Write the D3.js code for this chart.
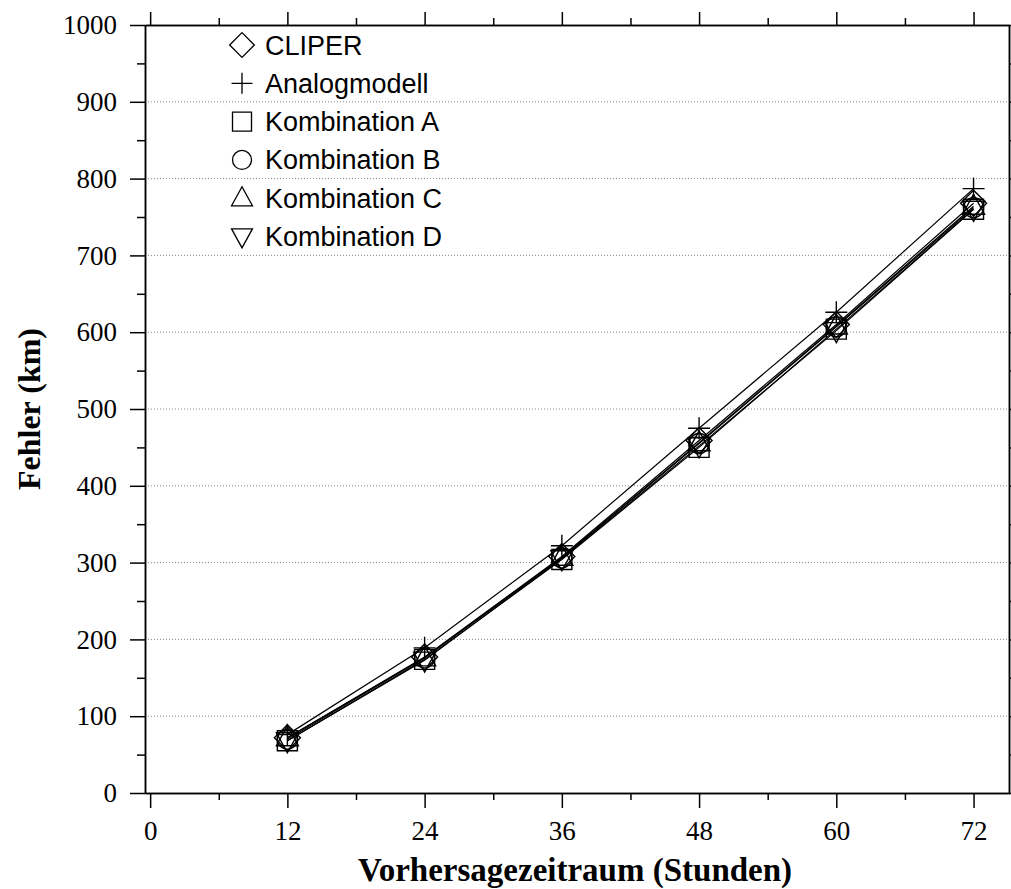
<!DOCTYPE html>
<html>
<head>
<meta charset="utf-8">
<script src="https://cdn.jsdelivr.net/npm/d3@7"></script>
<style>
  html, body { margin: 0; padding: 0; background: #fff; }
  svg { display: block; }
</style>
</head>
<body>
<svg id="chart" width="1011" height="889"></svg>
<script>
// Forecast lead times (hours)
const hours = [12, 24, 36, 48, 60, 72];

// Mean track error (km) per model
const cliper      = [72, 177, 308, 459, 610, 768];
const analogmodel = [76, 189, 322, 475, 626, 787];
const kombA       = [68, 174, 304, 450, 604, 760];
const kombB       = [70, 176, 306, 455, 607, 762];
const kombC       = [72, 176, 307, 456, 608, 764];
const kombD       = [68, 173, 305, 452, 602, 760];

const seriesNames = ["CLIPER", "Analogmodell", "Kombination A", "Kombination B", "Kombination C", "Kombination D"];
const seriesValues = [cliper, analogmodel, kombA, kombB, kombC, kombD];
const seriesSymbols = ["diamond", "plus", "square", "circle", "triUp", "triDown"];

const xMajor = [0, 12, 24, 36, 48, 60, 72];
const xMinor = [6, 18, 30, 42, 54, 66];
const yMajor = [0, 100, 200, 300, 400, 500, 600, 700, 800, 900, 1000];
const yMinor = [50, 150, 250, 350, 450, 550, 650, 750, 850, 950];

const svg = d3.select("#chart");
const plotLeft = 145, plotRight = 1009, plotTop = 25, plotBottom = 793;

const x = d3.scaleLinear().domain([-0.45, 75.1]).range([plotLeft, plotRight]);
const y = d3.scaleLinear().domain([0, 1000]).range([plotBottom, plotTop]);

const serif = "'Liberation Serif', 'Times New Roman', serif";
const sans = "'Liberation Sans', Arial, sans-serif";

// horizontal dotted grid
svg.append("g")
  .selectAll("line")
  .data(yMajor.filter(v => v > 0 && v < 1000))
  .join("line")
  .attr("x1", plotLeft).attr("x2", plotRight)
  .attr("y1", d => y(d)).attr("y2", d => y(d))
  .attr("stroke", "#888").attr("stroke-width", 1)
  .attr("stroke-dasharray", "1,2");

function styleAxis(g) {
  g.selectAll("path.domain").attr("stroke", "#000").attr("stroke-width", 1.5);
  g.selectAll(".tick line").attr("stroke", "#000").attr("stroke-width", 1.5);
}

// bottom axis
const gb = svg.append("g").attr("transform", `translate(0,${plotBottom})`)
  .call(d3.axisBottom(x).tickValues(xMajor).tickSize(15).tickSizeOuter(0).tickPadding(13).tickFormat(d3.format("d")));
styleAxis(gb);
gb.selectAll("text").attr("font-family", serif).attr("font-size", 27).attr("fill", "#000");
const gbm = svg.append("g").attr("transform", `translate(0,${plotBottom})`)
  .call(d3.axisBottom(x).tickValues(xMinor).tickSize(7).tickSizeOuter(0).tickFormat(""));
styleAxis(gbm);

// top axis
const gt = svg.append("g").attr("transform", `translate(0,${plotTop})`)
  .call(d3.axisTop(x).tickValues(xMajor).tickSize(13).tickSizeOuter(0).tickFormat(""));
styleAxis(gt);
const gtm = svg.append("g").attr("transform", `translate(0,${plotTop})`)
  .call(d3.axisTop(x).tickValues(xMinor).tickSize(7).tickSizeOuter(0).tickFormat(""));
styleAxis(gtm);

// left axis
const gl = svg.append("g").attr("transform", `translate(${plotLeft},0)`)
  .call(d3.axisLeft(y).tickValues(yMajor).tickSize(15).tickSizeOuter(0).tickPadding(13).tickFormat(d3.format("d")));
styleAxis(gl);
gl.selectAll("text").attr("font-family", serif).attr("font-size", 27).attr("fill", "#000");
const glm = svg.append("g").attr("transform", `translate(${plotLeft},0)`)
  .call(d3.axisLeft(y).tickValues(yMinor).tickSize(8).tickSizeOuter(0).tickFormat(""));
styleAxis(glm);

// right axis
const gr = svg.append("g").attr("transform", `translate(${plotRight},0)`)
  .call(d3.axisRight(y).tickValues(yMajor).tickSize(15).tickSizeOuter(0).tickFormat(""));
styleAxis(gr);
const grm = svg.append("g").attr("transform", `translate(${plotRight},0)`)
  .call(d3.axisRight(y).tickValues(yMinor).tickSize(8).tickSizeOuter(0).tickFormat(""));
styleAxis(grm);

// axis titles
svg.append("text")
  .attr("x", 575).attr("y", 881)
  .attr("text-anchor", "middle")
  .attr("font-family", serif).attr("font-weight", "bold").attr("font-size", 33)
  .text("Vorhersagezeitraum (Stunden)");
svg.append("text")
  .attr("transform", "translate(40,409) rotate(-90)")
  .attr("text-anchor", "middle")
  .attr("font-family", serif).attr("font-weight", "bold").attr("font-size", 32)
  .text("Fehler (km)");

// marker shapes
function symbolPath(kind) {
  switch (kind) {
    case "diamond": return "M0,-13L13,0L0,13L-13,0Z";
    case "plus": return "M-11,0H11M0,-11V11";
    case "square": return "M-10,-10H10V10H-10Z";
    case "circle": return "M10,0A10,10 0 1,1 -10,0A10,10 0 1,1 10,0Z";
    case "triUp": return "M0,-12L11,8H-11Z";
    case "triDown": return "M0,12L11,-8H-11Z";
  }
}

const line = d3.line().x(d => x(d[0])).y(d => y(d[1]));

const gSeries = svg.append("g");
seriesValues.forEach((vals, i) => {
  const pts = hours.map((h, j) => [h, vals[j]]);
  gSeries.append("path")
    .attr("d", line(pts))
    .attr("fill", "none").attr("stroke", "#000").attr("stroke-width", 1.2);
});
seriesValues.forEach((vals, i) => {
  const pts = hours.map((h, j) => [h, vals[j]]);
  gSeries.append("g").selectAll("path")
    .data(pts)
    .join("path")
    .attr("transform", d => `translate(${x(d[0])},${y(d[1])})`)
    .attr("d", symbolPath(seriesSymbols[i]))
    .attr("fill", "none").attr("stroke", "#000").attr("stroke-width", 1.4);
});

// legend
const legend = svg.append("g");
seriesNames.forEach((name, i) => {
  const cy = 45 + i * 38.3;
  legend.append("path")
    .attr("transform", `translate(242,${cy}) scale(0.95)`)
    .attr("d", symbolPath(seriesSymbols[i]))
    .attr("fill", "none").attr("stroke", "#000").attr("stroke-width", 1.4);
  legend.append("text")
    .attr("x", 265).attr("y", cy + 9.5)
    .attr("font-family", sans).attr("font-size", 27)
    .text(name);
});
</script>
</body>
</html>
